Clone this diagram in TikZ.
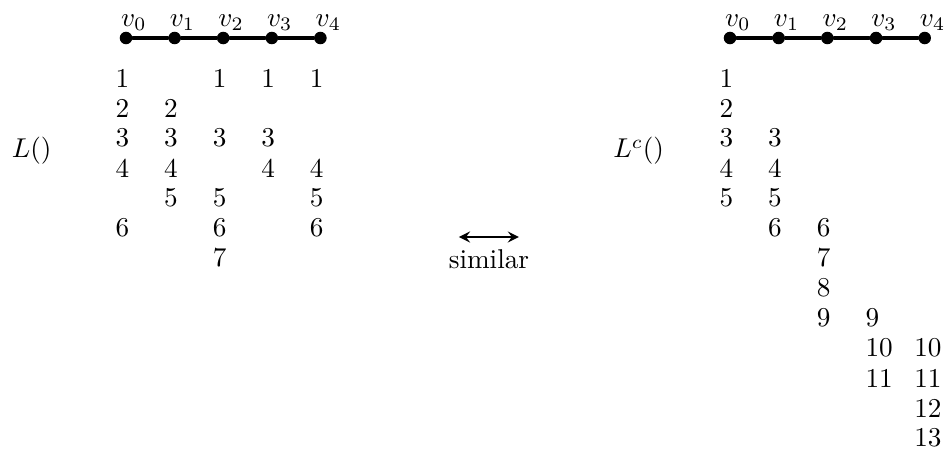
\documentclass[tikz,border=0pt]{standalone}
\begin{document}
\begin{tikzpicture}[line join=round, line cap=round, >=stealth,
  vtx/.style={circle, fill, inner sep=0pt, minimum size=4.6pt},
  num/.style={anchor=west, inner sep=0pt}]
\useasboundingbox (0,0) rectangle (12.21,-5.80);
% ==========================================
% left path and its lists
\foreach \i in {0,...,4} {
  \node[vtx] (l\i) at ({1.628+0.628*\i},-0.491) {};
  \node (lv\i) at ({1.730+0.628*\i},-0.298) {$v_\i$};
}
\draw[line width=1.2pt] (l0) -- (l1) -- (l2) -- (l3) -- (l4);
\foreach \c/\list in {0/{1,2,3,4,6}, 1/{2,3,4,5}, 2/{1,3,5,6,7}, 3/{1,3,4}, 4/{1,4,5,6}}
  \foreach \n in \list
    \node[num] (ln\c-\n) at ({1.486+0.628*\c},{-1.008-0.3876*(\n-1)}) {\n};
\node[anchor=base west] (Lleft) at (0.03,-2.041) {$L()$};
% ==========================================
% arrow in the middle
\coordinate (sa) at (5.930,-3.062);
\coordinate (sb) at (6.705,-3.062);
\draw[<->, line width=0.8pt] (sa) -- (sb) node[midway, below, yshift=-1pt] (sim) {similar};
% ==========================================
% right path and its lists
\foreach \i in {0,...,4} {
  \node[vtx] (r\i) at ({9.432+0.629*\i},-0.491) {};
  \node (rv\i) at ({9.534+0.629*\i},-0.298) {$v_\i$};
}
\draw[line width=1.2pt] (r0) -- (r1) -- (r2) -- (r3) -- (r4);
\foreach \c/\list in {0/{1,2,3,4,5}, 1/{3,4,5,6}, 2/{6,7,8,9}, 3/{9,10,11}, 4/{10,11,12,13}}
  \foreach \n in \list
    \node[num] (rn\c-\n) at ({9.290+0.629*\c},{-1.008-0.3876*(\n-1)}) {\n};
\node[anchor=base west] (Lright) at (7.800,-2.041) {$L^c()$};
\end{tikzpicture}
\end{document}
